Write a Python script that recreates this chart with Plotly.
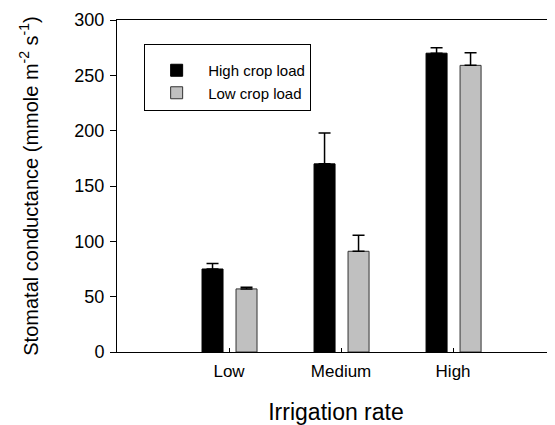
import plotly.graph_objects as go

categories = ["Low", "Medium", "High"]
cat_pos = [1, 2, 3]
high_load = [75, 170, 270]
high_load_err = [5, 28, 5]
low_load = [57, 91, 259]
low_load_err = [1.5, 14.5, 11.5]
y_ticks = [0, 50, 100, 150, 200, 250, 300]

fig = go.Figure()
fig.add_trace(go.Bar(
    x=cat_pos, y=high_load, name="High crop load",
    width=0.1875, offset=-0.241,
    marker=dict(color="black", line=dict(color="black", width=1)),
    error_y=dict(type="data", symmetric=False, array=high_load_err,
                 arrayminus=[0] * len(high_load_err),
                 color="black", thickness=1.5, width=6),
))
fig.add_trace(go.Bar(
    x=cat_pos, y=low_load, name="Low crop load",
    width=0.1875, offset=0.0625,
    marker=dict(color="#c0c0c0", line=dict(color="#333333", width=1)),
    error_y=dict(type="data", symmetric=False, array=low_load_err,
                 arrayminus=[0] * len(low_load_err),
                 color="black", thickness=1.5, width=6),
))

fig.update_layout(
    width=547, height=417,
    margin=dict(l=109, r=0, t=12, b=73),
    paper_bgcolor="white", plot_bgcolor="white",
    font=dict(family="Liberation Sans, Arial, sans-serif", color="black"),
    showlegend=True,
    legend=dict(
        x=0.062, y=0.928, xanchor="left", yanchor="top",
        bordercolor="black", borderwidth=1, bgcolor="white",
        font=dict(size=15), tracegroupgap=0, itemwidth=53,
        entrywidth=170, entrywidthmode="pixels",
        title=dict(text=" ", font=dict(size=7)),
    ),
    xaxis=dict(
        range=[0, 3.91],
        tickmode="array", tickvals=cat_pos, ticktext=categories,
        ticks="inside", ticklen=4, tickcolor="black",
        showline=True, linecolor="black", linewidth=1, mirror=True,
        showgrid=False, zeroline=False,
        tickfont=dict(size=17), ticklabelstandoff=4,
        title=dict(text="Irrigation rate", font=dict(size=23), standoff=26),
    ),
    yaxis=dict(
        range=[0, 300],
        tickmode="array", tickvals=y_ticks,
        ticks="outside", ticklen=6, tickcolor="black",
        showline=True, linecolor="black", linewidth=1, mirror=False,
        showgrid=False, zeroline=False,
        tickfont=dict(size=18), ticklabelstandoff=2,
        title=dict(text="Stomatal conductance (mmole m<sup>-2</sup> s<sup>-1</sup>)",
                   font=dict(size=20), standoff=30),
    ),
)

fig.write_html("out.html")
